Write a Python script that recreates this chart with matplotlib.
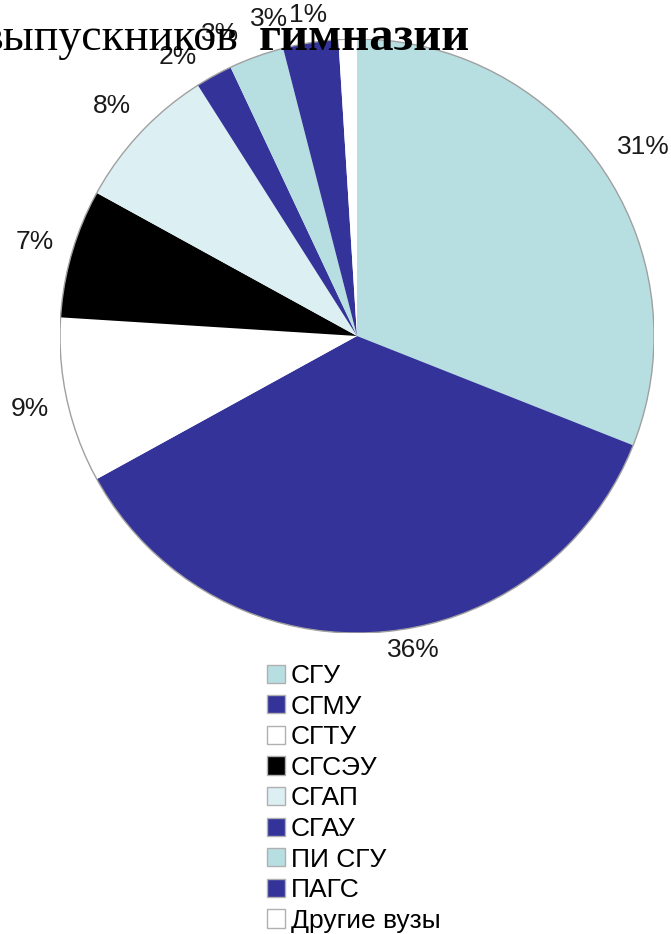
import numpy as np
import matplotlib
matplotlib.use("Agg")
import matplotlib.pyplot as plt
from matplotlib.patches import Patch, Circle

# === Données ===
vuzy = ["СГУ", "СГМУ", "СГТУ", "СГСЭУ", "СГАП", "СГАУ", "ПИ СГУ", "ПАГС", "Другие вузы"]
doli = [31, 36, 9, 7, 8, 2, 3, 3, 1]
cveta = ["#B7DFE2", "#333399", "#FFFFFF", "#000000", "#DCEFF2",
         "#333399", "#B7DFE2", "#333399", "#FFFFFF"]

title_reg = "выпускников"
title_bold = "гимназии"

# petits décalages des étiquettes (comme Excel)
label_nudge = {0: (0.03, 0.0), 1: (0.12, 0.07), 5: (-0.06, -0.05), 6: (-0.08, -0.045),
               7: (-0.12, -0.05), 8: (-0.13, -0.05)}

W, H = 671, 934
fig = plt.figure(figsize=(W / 100, H / 100), dpi=100)

cx, cy, R = 357, 336, 297
ax = fig.add_axes([(cx - R) / W, (H - cy - R) / H, 2 * R / W, 2 * R / H])
ax.axis("off")

wedges, texts, autotexts = ax.pie(
    doli, colors=cveta, startangle=90, counterclock=False, radius=1,
    autopct=lambda p: f"{p:.0f}%", pctdistance=1.13,
    wedgeprops=dict(linewidth=0),
    textprops=dict(fontsize=19, family="Liberation Sans", color="#1a1a1a"),
)
ax.set_xlim(-1, 1)
ax.set_ylim(-1, 1)
for i, t in enumerate(autotexts):
    t.set_clip_on(False)
    if i in label_nudge:
        x, y = t.get_position()
        dx, dy = label_nudge[i]
        t.set_position((x + dx, y + dy))

ax.add_patch(Circle((0, 0), 1, fill=False, edgecolor="#A0A0A0", linewidth=1))

# === Légende ===
handles = [Patch(facecolor=c, edgecolor="#B0B0B0", linewidth=1) for c in cveta]
fig.legend(handles, vuzy, loc="upper left", bbox_to_anchor=(267 / W, 1 - 664 / H),
           frameon=False, borderpad=0, borderaxespad=0,
           handlelength=0.68, handleheight=0.68, handletextpad=0.22,
           labelspacing=0.25, prop=dict(family="Liberation Sans", size=19))

# === Titre (coupé à gauche) ===
ty = 1 - 50 / H
fig.text(238 / W, ty, title_reg, ha="right", va="baseline",
         family="Liberation Serif", fontsize=33)
fig.text(259 / W, ty, title_bold, ha="left", va="baseline",
         family="Liberation Serif", fontsize=35, fontweight="bold")

fig.savefig("out.png", dpi=100)
